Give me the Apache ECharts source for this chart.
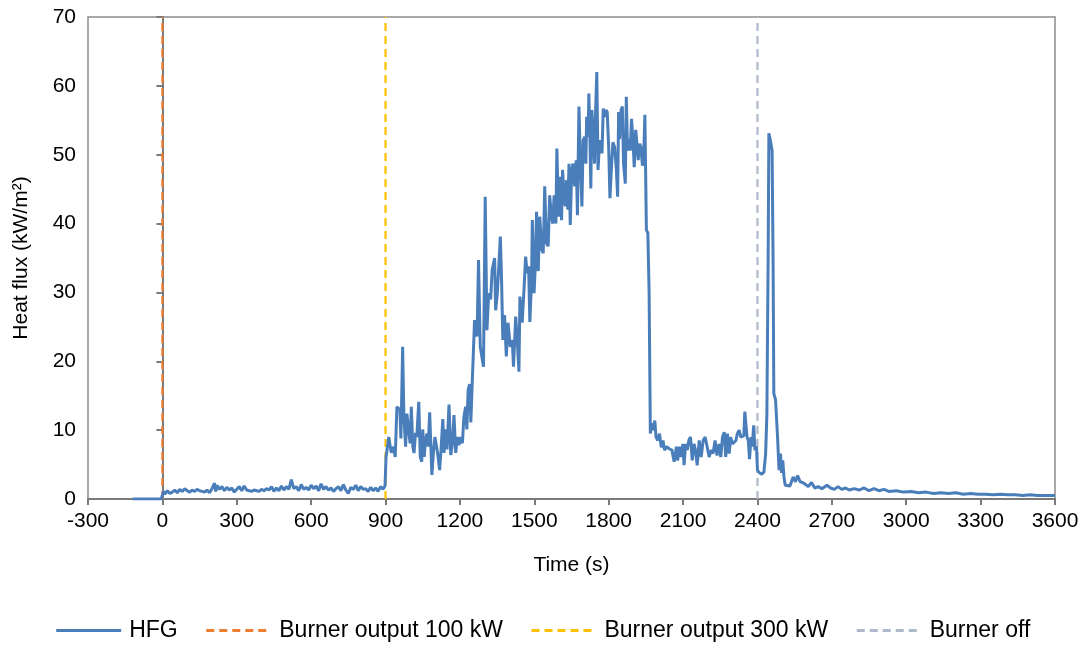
<!DOCTYPE html>
<html>
<head>
<meta charset="utf-8">
<script src="https://cdn.jsdelivr.net/npm/echarts@6/dist/echarts.min.js"></script>
<style>html,body{margin:0;padding:0;background:#fff;}#c{width:1085px;height:645px;}</style>
</head>
<body>
<div id="c"></div>
<script>
const xTicks = [-300, 0, 300, 600, 900, 1200, 1500, 1800, 2100, 2400, 2700, 3000, 3300, 3600];
const yTicks = [0, 10, 20, 30, 40, 50, 60, 70];
const seriesNames = ["HFG", "Burner output 100 kW", "Burner output 300 kW", "Burner off"];
const burnerTimes = [0, 900, 2400];

const times = [-120,-5,0,5,10,20,30,40,50,60,70,80,90,100,110,120,130,140,150,160,170,180,190,200,210,215,220,230,240,250,260,270,280,290,300,310,320,330,340,350,360,370,380,390,400,410,420,430,440,450,460,470,480,490,500,510,520,530,540,550,560,570,580,590,600,610,620,630,640,650,660,670,680,690,700,710,720,730,740,750,760,770,780,790,800,810,820,830,840,850,860,870,880,890,898,
902,913,923,932,939,946,958,962,969,974,981,986,993,999,1004,1010,1015,1021,1026,1034,1040,1046,1050,1056,1061,1067,1072,1078,1087,1093,1099,1106,1112,1118,1124,1131,1136,1141,1148,1156,1163,1170,1176,1183,1190,1196,1203,1210,1216,1223,1228,1233,1239,1244,1250,1259,1264,1269,1275,1282,1287,1295,1302,1309,1316,1324,1330,1340,1344,1351,1357,1363,1368,1373,1380,1387,1394,1403,1411,1416,1425,1431,1438,1442,1451,1459,1465,1471,1477,1482,1489,1492,1499,1504,1509,1516,1522,1530,1536,1542,1549,1556,1562,1568,1574,1580,1587,1591,1598,1603,1610,1614,1620,1625,1630,1635,1640,1645,1651,1656,1663,1669,1674,1680,1686,1692,1697,1703,1708,1711,1717,1720,1725,1728,1732,1737,1743,1747,1752,1757,1762,1767,1773,1778,1783,1789,1794,1800,1805,1812,1817,1824,1831,1836,1840,1844,1850,1855,1860,1867,1871,1876,1882,1887,1892,1898,1903,1909,1914,1919,1925,1930,1936,1941,1946,1952,1958,1963,1968,1975,1980,1986,1991,1998,2005,2012,2019,2025,2034,2044,2055,2064,2073,2078,2085,2092,2099,2104,2110,2117,2123,2130,2137,2144,2150,2157,2165,2173,2181,2189,2197,2205,2213,2221,2229,2237,2245,2252,2259,2266,2272,2279,2286,2292,2299,2306,2313,2319,2326,2333,2340,2345,2349,2358,2363,2368,2374,2379,2385,2390,2396,2400,2408,2417,2426,2433,2438,2443,2446,2452,2459,2463,2466,2473,2481,2487,2493,2497,2502,2507,2512,2520,2531,2538,2544,2553,2562,2572,2582,2594,2605,2618,2631,2645,2660,2680,2695,2710,2725,2740,2755,2770,2790,2810,2830,2850,2870,2890,2910,2930,2960,2990,3020,3050,3080,3110,3140,3170,3200,3230,3260,3290,3320,3350,3380,3410,3440,3470,3500,3530,3560,3600];

const hfg = [0,0,0.2,1.1,0.7,1.2,0.8,1.0,1.3,0.9,1.4,1.1,1.5,1.2,1.0,1.3,1.1,1.4,1.2,1.1,1.0,1.3,0.9,1.5,2.3,1.1,2.0,1.4,1.8,1.2,1.7,1.3,1.6,1.0,1.4,1.8,1.2,1.9,1.3,1.2,1.1,1.3,1.2,1.1,1.4,1.2,1.5,1.3,1.8,1.1,1.6,1.2,1.9,1.3,1.8,1.4,2.8,1.5,1.8,1.2,2.1,1.4,1.7,1.3,2.0,1.5,1.9,1.2,2.2,1.4,1.8,1.3,1.6,1.1,1.5,1.8,1.2,2.1,1.3,0.8,1.7,1.4,2.0,1.2,1.8,1.4,1.5,1.1,1.7,1.2,1.6,1.1,1.8,1.4,1.9,
6.1,9.0,6.7,7.6,6.1,13.4,13.0,8.8,22.1,12.0,7.6,12.4,10.1,8.1,13.4,7.6,6.7,9.6,9.0,14.1,6.1,5.4,10.1,6.1,8.5,9.5,7.6,12.6,3.5,6.7,9.0,7.6,6.1,4.2,7.2,11.6,6.7,10.1,7.2,13.7,6.4,8.1,12.2,6.7,9.0,7.8,9.0,8.1,11.9,13.4,10.1,15.8,16.7,11.1,17.2,26.0,24.5,23.6,34.7,22.1,22.3,19.2,43.9,24.5,29.9,29.0,33.3,35.0,27.4,29.9,29.9,38.1,31.8,23.1,26.7,20.7,25.6,22.1,23.1,19.2,26.5,23.1,18.5,29.4,25.6,30.8,35.2,32.8,33.8,25.7,31.8,40.5,29.9,33.8,41.7,33.1,41.0,36.2,35.7,45.4,37.1,36.7,44.1,41.5,40.0,44.1,40.0,50.9,41.0,46.8,40.5,47.8,43.9,42.5,46.3,42.0,48.7,39.8,47.8,48.7,45.4,49.2,41.2,57.0,48.7,42.5,52.1,52.6,48.7,55.5,52.6,58.9,51.1,45.1,56.5,53.6,48.7,56.0,62.0,47.8,51.1,52.1,50.2,56.7,55.5,56.5,56.2,51.1,43.7,48.7,51.8,51.1,47.8,43.9,56.2,52.3,56.5,57.0,48.7,45.8,58.4,50.6,52.3,50.6,55.2,52.1,48.2,53.6,51.6,49.2,51.6,51.1,48.4,49.7,55.8,39.1,38.6,30.0,9.5,11.0,10.0,11.4,9.0,8.5,9.5,7.5,8.5,7.1,7.6,7.3,7.1,5.4,7.6,5.6,7.6,6.1,8.0,4.9,8.0,7.1,8.5,9.0,5.6,8.0,7.1,4.9,8.5,6.1,8.5,9.0,7.6,6.1,7.1,6.6,8.5,6.3,8.0,6.1,9.0,9.7,6.1,9.5,6.6,9.0,8.0,8.2,8.5,9.5,10.0,9.0,9.0,9.2,12.7,9.0,8.5,5.8,9.0,7.6,10.7,7.1,7.6,4.2,3.8,3.6,3.9,6.6,12.3,34.7,53.1,52.1,50.6,34.7,15.3,14.4,9.0,4.2,6.6,3.8,5.6,3.2,2.0,2.1,1.9,2.6,3.2,2.5,3.4,2.5,2.4,2.1,1.8,2.4,1.6,1.8,1.5,2.0,1.6,1.4,1.8,1.4,1.6,1.3,1.5,1.3,1.6,1.2,1.5,1.2,1.4,1.1,1.2,1.0,1.1,0.9,1.0,0.8,0.9,0.8,0.9,0.7,0.8,0.7,0.7,0.6,0.7,0.6,0.6,0.5,0.6,0.5,0.5,0.5];

const hfgData = times.map((t, i) => [t, hfg[i]]);
const yMin = yTicks[0], yMax = yTicks[yTicks.length - 1];
const vline = t => [[t, yMin], [t, yMax]];

const chart = echarts.init(document.getElementById('c'), null, {renderer: 'canvas'});
const font = 'Liberation Sans, Arial, sans-serif';
const axisCol = '#7a7a7a';
const plain = v => String(v);
chart.setOption({
  animation: false,
  backgroundColor: '#fff',
  grid: {left: 88, right: 30, top: 17, bottom: 146, show: true, borderColor: '#8c8c8c', borderWidth: 1.5},
  xAxis: {
    type: 'value', min: xTicks[0], max: xTicks[xTicks.length - 1], interval: 300,
    name: 'Time (s)', nameLocation: 'middle', nameGap: 56,
    nameTextStyle: {fontFamily: font, fontSize: 21, color: '#000'},
    axisLine: {show: true, onZero: false, lineStyle: {color: axisCol, width: 2}},
    axisTick: {show: true, inside: false, length: 6, lineStyle: {color: axisCol, width: 2}},
    axisLabel: {fontFamily: font, fontSize: 21, color: '#000', margin: 12, formatter: plain},
    splitLine: {show: false}
  },
  yAxis: {
    type: 'value', min: yMin, max: yMax, interval: 10,
    name: 'Heat flux (kW/m²)', nameLocation: 'middle', nameGap: 56, nameRotate: 90,
    nameTextStyle: {fontFamily: font, fontSize: 21, color: '#000'},
    axisLine: {show: true, lineStyle: {color: axisCol, width: 2}},
    axisTick: {show: true, inside: false, length: 6, lineStyle: {color: axisCol, width: 2}},
    axisLabel: {fontFamily: font, fontSize: 21, color: '#000', margin: 12, formatter: plain},
    splitLine: {show: false}
  },
  legend: {
    top: 614, left: 'center', itemWidth: 65, itemHeight: 12, itemGap: 27,
    textStyle: {fontFamily: font, fontSize: 23, color: '#000', padding: [0, 0, 0, 3]},
    itemStyle: {opacity: 0, borderWidth: 0},
    lineStyle: {width: 3},
    data: seriesNames
  },
  series: [
    {name: seriesNames[0], type: 'line', data: hfgData, showSymbol: false, symbol: 'none',
     lineStyle: {color: '#4a7ebb', width: 3}, itemStyle: {color: '#4a7ebb'}, z: 5},
    {name: seriesNames[1], type: 'line', data: vline(burnerTimes[0]), showSymbol: false, symbol: 'none',
     lineStyle: {color: '#ed7d31', width: 2.2, type: [8, 5]}, itemStyle: {color: '#ed7d31'}, z: 3},
    {name: seriesNames[2], type: 'line', data: vline(burnerTimes[1]), showSymbol: false, symbol: 'none',
     lineStyle: {color: '#ffc000', width: 2.2, type: [8, 5]}, itemStyle: {color: '#ffc000'}, z: 3},
    {name: seriesNames[3], type: 'line', data: vline(burnerTimes[2]), showSymbol: false, symbol: 'none',
     lineStyle: {color: '#adb9ca', width: 2.2, type: [8, 5]}, itemStyle: {color: '#adb9ca'}, z: 3}
  ]
});
</script>
</body>
</html>
